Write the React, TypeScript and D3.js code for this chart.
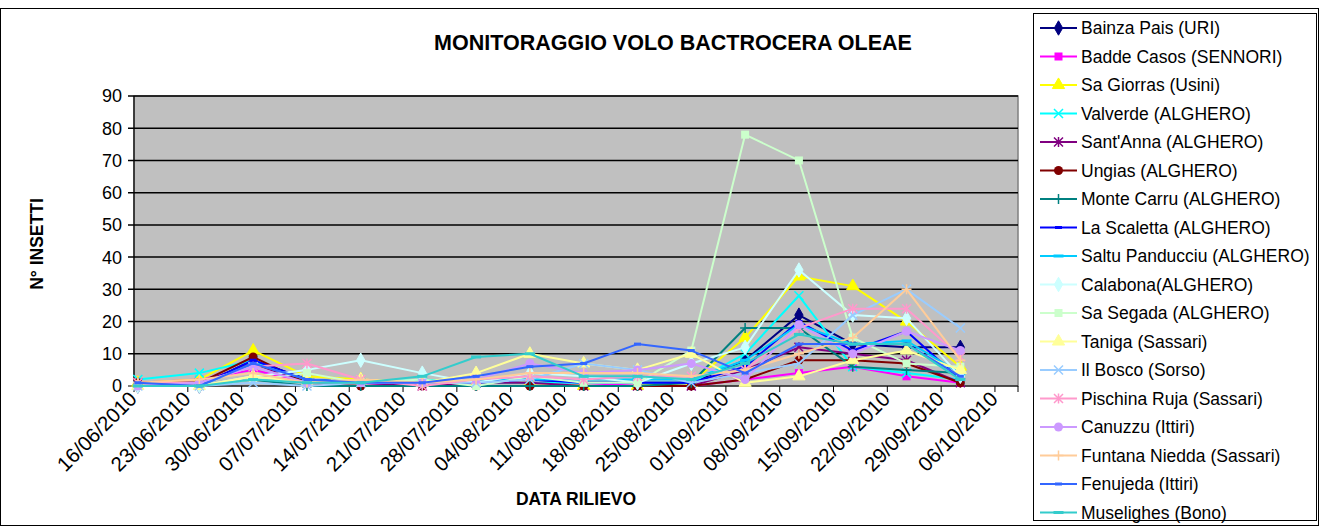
import { useRef, useEffect } from 'react';
import * as d3 from 'd3';

// weekly tick labels on the date axis
const tickLabels = ['16/06/2010', '23/06/2010', '30/06/2010', '07/07/2010', '14/07/2010', '21/07/2010',
  '28/07/2010', '04/08/2010', '11/08/2010', '18/08/2010', '25/08/2010', '01/09/2010', '08/09/2010',
  '15/09/2010', '22/09/2010', '29/09/2010', '06/10/2010'];

// dates of each survey
const surveyDates = ['2010-06-16', '2010-06-24', '2010-07-01', '2010-07-08', '2010-07-15', '2010-07-23',
  '2010-07-30', '2010-08-06', '2010-08-13', '2010-08-20', '2010-08-27', '2010-09-03', '2010-09-10',
  '2010-09-17', '2010-09-24', '2010-10-01'];

const seriesNames = ['Bainza Pais (URI)', 'Badde Casos (SENNORI)', 'Sa Giorras (Usini)', 'Valverde (ALGHERO)',
  "Sant'Anna (ALGHERO)", 'Ungias (ALGHERO)', 'Monte Carru (ALGHERO)', 'La Scaletta (ALGHERO)',
  'Saltu Panducciu (ALGHERO)', 'Calabona(ALGHERO)', 'Sa Segada  (ALGHERO)', 'Taniga (Sassari)',
  'Il Bosco (Sorso)', 'Pischina Ruja (Sassari)', 'Canuzzu (Ittiri)', 'Funtana Niedda (Sassari)',
  'Fenujeda (Ittiri)', 'Muselighes (Bono)'];

const seriesColors = ['#000080', '#FF00FF', '#FFFF00', '#00FFFF', '#800080', '#800000', '#008080', '#0000FF',
  '#00CCFF', '#CCFFFF', '#CCFFCC', '#FFFF99', '#99CCFF', '#FF99CC', '#CC99FF', '#FFCC99', '#3366FF', '#33CCCC'];

const seriesMarkers = ['diamond', 'square', 'triangle', 'x', 'star', 'circle', 'plus', 'dash',
  'longdash', 'diamond', 'square', 'triangle', 'x', 'star', 'circle', 'plus', 'dash', 'longdash'];

const bainzaPais = [0, 0, 8, 2, 1, 1, 1, 2, 1, 1, 1, 8, 22, 13, 12, 12];
const baddeCasos = [1, 2, 5, 1, 1, 0, 1, 1, 1, 0, 0, 2, 4, 6, 3, 1];
const saGiorras = [1, 2, 11, 3, 2, 1, 1, 1, 0, 0, 1, 15, 34, 31, 20, 6];
const valverde = [2, 4, 8, 1, 1, 2, 1, 1, 1, 1, 1, 10, 28, 6, 4, 2];
const santAnna = [1, 1, 7, 1, 1, 0, 1, 1, 0, 0, 0, 5, 12, 10, 8, 1];
const ungias = [1, 1, 9, 1, 0, 0, 0, 0, 0, 0, 0, 2, 8, 8, 7, 1];
const monteCarru = [0, 0, 2, 0, 0, 0, 0, 0, 0, 0, 1, 18, 18, 6, 5, 4];
const laScaletta = [0, 0, 8, 2, 1, 1, 1, 2, 1, 1, 1, 6, 20, 11, 17, 2];
const saltuPanducciu = [0, 0, 7, 2, 1, 1, 2, 2, 2, 2, 2, 8, 19, 13, 14, 4];
const calabona = [0, 0, 3, 5, 8, 4, 1, 4, 3, 1, 7, 12, 36, 22, 21, 3];
const saSegada = [0, 0, 2, 4, 1, 2, 0, 3, 1, 1, 11, 78, 70, 15, 7, 6];
const taniga = [0, 0, 3, 1, 2, 1, 4, 10, 7, 5, 10, 1, 3, 8, 11, 5];
const ilBosco = [0, 0, 1, 0, 1, 1, 1, 2, 7, 5, 1, 4, 7, 22, 30, 18];
const pischinaRuja = [1, 1, 6, 7, 2, 0, 2, 3, 2, 3, 3, 5, 18, 24, 24, 9];
const canuzzu = [0, 1, 6, 1, 1, 1, 2, 7, 4, 5, 7, 2, 19, 10, 17, 11];
const funtanaNiedda = [1, 2, 4, 1, 2, 1, 2, 4, 4, 4, 3, 5, 10, 15, 30, 8];
const fenujeda = [1, 0, 7, 2, 1, 1, 3, 6, 7, 13, 11, 4, 13, 13, 13, 3];
const muselighes = [0, 0, 2, 1, 1, 3, 9, 10, 3, 3, 2, 7, 16, 13, 13, 2];

const seriesValues = [bainzaPais, baddeCasos, saGiorras, valverde, santAnna, ungias, monteCarru, laScaletta,
  saltuPanducciu, calabona, saSegada, taniga, ilBosco, pischinaRuja, canuzzu, funtanaNiedda, fenujeda, muselighes];

const yTicks = [0, 10, 20, 30, 40, 50, 60, 70, 80, 90];

const FONT = '"Liberation Sans", Arial, sans-serif';

const drawMarker = (g, type, color) => {
  if (type === 'diamond') {
    g.append('path').attr('d', d3.symbol(d3.symbolDiamond, 60)()).attr('fill', color).attr('stroke', color);
  } else if (type === 'square') {
    g.append('rect').attr('x', -4).attr('y', -4).attr('width', 8).attr('height', 8).attr('fill', color);
  } else if (type === 'triangle') {
    g.append('path').attr('d', d3.symbol(d3.symbolTriangle, 65)()).attr('fill', color).attr('stroke', color);
  } else if (type === 'circle') {
    g.append('circle').attr('r', 4.5).attr('fill', color);
  } else if (type === 'x') {
    g.append('path').attr('d', 'M-4.5,-4.5L4.5,4.5M-4.5,4.5L4.5,-4.5').attr('stroke', color).attr('stroke-width', 1.5);
  } else if (type === 'star') {
    g.append('path').attr('d', 'M-4.5,-4.5L4.5,4.5M-4.5,4.5L4.5,-4.5M0,-5L0,5').attr('stroke', color).attr('stroke-width', 1.5);
  } else if (type === 'plus') {
    g.append('path').attr('d', 'M-5,0L5,0M0,-5L0,5').attr('stroke', color).attr('stroke-width', 1.5);
  } else if (type === 'dash') {
    g.append('rect').attr('x', -3.5).attr('y', -1.5).attr('width', 7).attr('height', 3).attr('fill', color);
  } else if (type === 'longdash') {
    g.append('rect').attr('x', -5).attr('y', -1.5).attr('width', 10).attr('height', 3).attr('fill', color);
  }
};

const VoloChart = () => {
  const ref = useRef<SVGSVGElement>(null);

  useEffect(() => {
    document.body.style.margin = '0';
    const svg = d3.select(ref.current);
    svg.selectAll('*').remove();

    const left = 134, right = 1018, top = 96, bottom = 386;
    const parse = d3.timeParse('%Y-%m-%d');
    const parseTick = d3.timeParse('%d/%m/%Y');

    const x = d3.scaleTime()
      .domain([parse('2010-06-16'), parse('2010-10-09')])
      .range([left, right]);
    const halfDay = (x(parse('2010-06-17')) - x(parse('2010-06-16'))) / 2;
    const y = d3.scaleLinear().domain([0, 90]).range([bottom, top]);

    svg.append('rect')
      .attr('x', 0.5).attr('y', 8.5).attr('width', 1318).attr('height', 517)
      .attr('fill', '#fff').attr('stroke', '#000').attr('stroke-width', 1);

    // plot area
    svg.append('rect')
      .attr('x', left).attr('y', top).attr('width', right - left).attr('height', bottom - top)
      .attr('fill', '#C0C0C0').attr('stroke', '#808080').attr('stroke-width', 1.5);

    svg.append('g').selectAll('line')
      .data(yTicks.filter(d => d > 0))
      .enter().append('line')
      .attr('x1', left - 6).attr('x2', right)
      .attr('y1', d => y(d)).attr('y2', d => y(d))
      .attr('stroke', '#000').attr('stroke-width', 1.5);

    svg.append('line')
      .attr('x1', left - 6).attr('x2', left)
      .attr('y1', bottom).attr('y2', bottom)
      .attr('stroke', '#000');

    svg.append('g').selectAll('text')
      .data(yTicks)
      .enter().append('text')
      .attr('x', left - 12)
      .attr('y', d => y(d))
      .attr('dy', '0.36em')
      .attr('text-anchor', 'end')
      .style('font-family', FONT)
      .style('font-size', '18px')
      .text(d => d);

    // axes lines
    svg.append('line').attr('x1', left).attr('x2', left).attr('y1', top).attr('y2', bottom)
      .attr('stroke', '#000').attr('stroke-width', 1.2);
    svg.append('line').attr('x1', left).attr('x2', right).attr('y1', bottom).attr('y2', bottom)
      .attr('stroke', '#000').attr('stroke-width', 1.2);

    const tickG = svg.append('g');
    tickLabels.forEach(t => {
      const tx = x(parseTick(t));
      tickG.append('line')
        .attr('x1', tx).attr('x2', tx).attr('y1', bottom).attr('y2', bottom + 6)
        .attr('stroke', '#000');
      tickG.append('text')
        .attr('transform', `translate(${tx - 1}, ${bottom + 9}) rotate(-45)`)
        .attr('text-anchor', 'end')
        .attr('dy', '0.35em')
        .style('font-family', FONT)
        .style('font-size', '20.5px')
        .text(t);
    });
    svg.append('line').attr('x1', right).attr('x2', right).attr('y1', bottom).attr('y2', bottom + 6)
      .attr('stroke', '#000');

    // series
    const dates = surveyDates.map(d => parse(d));
    const line = d3.line<number>()
      .x((_, i) => x(dates[i]) + halfDay)
      .y(d => y(d));

    seriesValues.forEach((vals, si) => {
      const color = seriesColors[si];
      const g = svg.append('g');
      g.append('path')
        .attr('d', line(vals))
        .attr('fill', 'none')
        .attr('stroke', color)
        .attr('stroke-width', 2)
        .attr('stroke-linejoin', 'round');
      vals.forEach((v, i) => {
        const m = g.append('g').attr('transform', `translate(${x(dates[i]) + halfDay}, ${y(v)})`);
        drawMarker(m, seriesMarkers[si], color);
      });
    });

    // titles
    svg.append('text')
      .attr('x', 673).attr('y', 50)
      .attr('text-anchor', 'middle')
      .style('font-family', FONT).style('font-size', '21.5px').style('font-weight', 'bold')
      .text('MONITORAGGIO VOLO BACTROCERA OLEAE');

    svg.append('text')
      .attr('x', 576).attr('y', 505)
      .attr('text-anchor', 'middle')
      .style('font-family', FONT).style('font-size', '17.5px').style('font-weight', 'bold')
      .text('DATA RILIEVO');

    svg.append('text')
      .attr('transform', `translate(43, 244) rotate(-90)`)
      .attr('text-anchor', 'middle')
      .style('font-family', FONT).style('font-size', '17.5px').style('font-weight', 'bold')
      .text('N° INSETTI');

    // legend
    const legend = svg.append('g');
    legend.append('rect')
      .attr('x', 1033.5).attr('y', 13.5).attr('width', 283).attr('height', 507)
      .attr('fill', '#fff').attr('stroke', '#000').attr('stroke-width', 1);

    seriesNames.forEach((name, i) => {
      const ly = 28 + i * 28.5;
      const item = legend.append('g').attr('transform', `translate(0, ${ly})`);
      item.append('line')
        .attr('x1', 1040).attr('x2', 1077).attr('y1', 0).attr('y2', 0)
        .attr('stroke', seriesColors[i]).attr('stroke-width', 2);
      drawMarker(item.append('g').attr('transform', 'translate(1058.5, 0)'), seriesMarkers[i], seriesColors[i]);
      item.append('text')
        .attr('x', 1081).attr('y', 0).attr('dy', '0.36em')
        .style('font-family', FONT).style('font-size', '17.5px')
        .text(name);
    });
  }, []);

  return <svg ref={ref} width={1320} height={527} style={{ display: 'block' }}></svg>;
};

export default function App() {
  return <VoloChart />;
}
